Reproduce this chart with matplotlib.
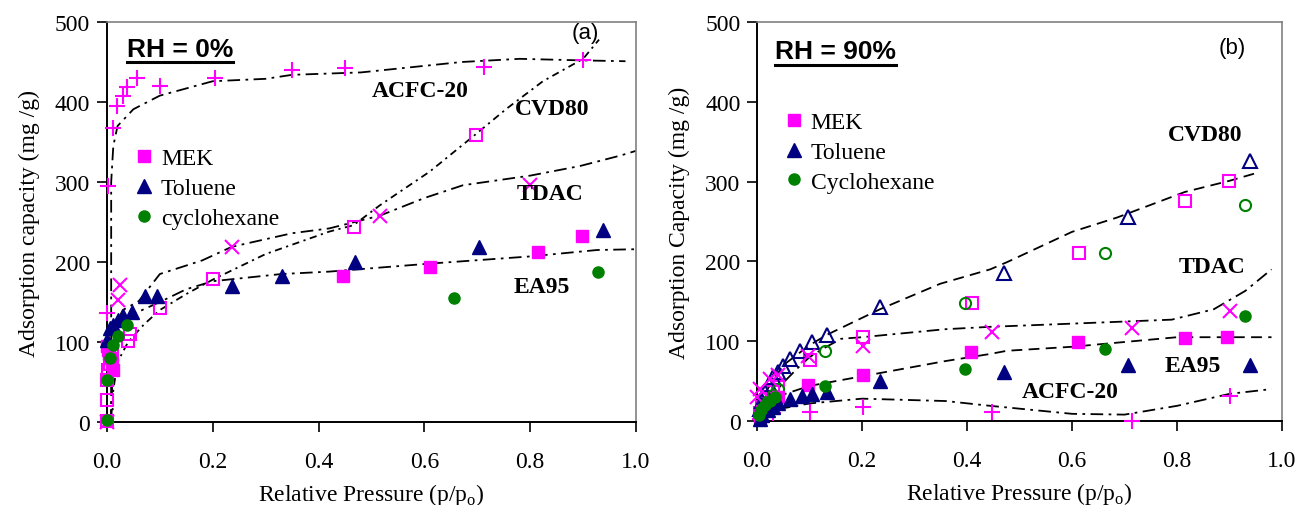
import matplotlib
matplotlib.use("Agg")
import matplotlib.pyplot as plt
from matplotlib.lines import Line2D

plt.rcParams['font.family'] = ['Liberation Serif', 'DejaVu Serif']
plt.rcParams['mathtext.fontset'] = 'custom'
plt.rcParams['mathtext.rm'] = 'Liberation Serif'

MAG = '#FF00FF'
NAVY = '#000080'
GRN = '#008000'

# ---- panel (a) RH = 0% ----
a_acfc_x = [0.0, 0.002, 0.011, 0.019, 0.03, 0.038, 0.057, 0.10, 0.204, 0.35, 0.45, 0.713, 0.90]
a_acfc_y = [136, 295, 367, 395, 408, 419, 430, 420, 430, 440, 443, 444, 453]
a_cvd_x = [0.0, 0.0, 0.0, 0.002, 0.006, 0.01, 0.04, 0.044, 0.10, 0.20, 0.466, 0.698]
a_cvd_y = [1, 27, 52, 65, 73, 84, 101, 110, 142, 179, 244, 359]
a_tdac_x = [0.0, 0.02, 0.025, 0.236, 0.516, 0.80]
a_tdac_y = [0, 152, 171, 219, 257, 296]
a_mek_x = [0.0, 0.002, 0.004, 0.006, 0.009, 0.012, 0.446, 0.61, 0.815, 0.898]
a_mek_y = [95, 90, 85, 80, 72, 65, 182, 194, 213, 232]
a_tol_x = [0.0, 0.005, 0.011, 0.02, 0.03, 0.047, 0.072, 0.095, 0.236, 0.33, 0.469, 0.703, 0.937]
a_tol_y = [102, 117, 121, 127, 133, 138, 157, 157, 170, 183, 200, 219, 240]
a_cyc_x = [0.0, 0.0, 0.006, 0.012, 0.02, 0.038, 0.656, 0.928]
a_cyc_y = [3, 52, 80, 96, 107, 121, 155, 188]

# fitted curves (a)
a_acfc_cx = [0.008, 0.008, 0.012, 0.02, 0.05, 0.1, 0.2, 0.3, 0.35, 0.48, 0.67, 0.78, 0.9, 0.98]
a_acfc_cy = [0, 300, 345, 370, 391, 408, 426, 429, 434, 437, 450, 454, 452, 451]
a_cvd_cx = [0.01, 0.012, 0.02, 0.04, 0.07, 0.1, 0.15, 0.2, 0.3, 0.42, 0.466, 0.516, 0.61, 0.692, 0.756, 0.824, 0.9, 0.93]
a_cvd_cy = [0, 40, 75, 100, 122, 140, 160, 178, 210, 238, 246, 271, 313, 357, 392, 426, 454, 478]
a_tdac_cx = [0.008, 0.01, 0.015, 0.03, 0.06, 0.1, 0.18, 0.236, 0.35, 0.42, 0.516, 0.6, 0.673, 0.8, 0.894, 0.97, 1.0]
a_tdac_cy = [0, 80, 120, 140, 151, 185, 202, 219, 236, 242, 258, 280, 296, 308, 320, 333, 339]
a_ea_cx = [0.008, 0.01, 0.015, 0.03, 0.05, 0.1, 0.15, 0.2, 0.33, 0.42, 0.61, 0.8, 0.926, 1.0]
a_ea_cy = [0, 60, 100, 122, 135, 150, 166, 176, 185, 188, 198, 207, 215, 216]

# ---- panel (b) RH = 90% ----
b_acfc_x = [0.005, 0.015, 0.03, 0.101, 0.202, 0.448, 0.714, 0.90]
b_acfc_y = [3, 6, 10, 11, 18, 11, 0, 31]
b_cvd_x = [0.005, 0.01, 0.02, 0.03, 0.04, 0.101, 0.202, 0.41, 0.613, 0.815, 0.899]
b_cvd_y = [10, 18, 28, 36, 42, 76, 105, 148, 210, 276, 301]
b_cvdtol_x = [0.006, 0.01, 0.016, 0.023, 0.03, 0.04, 0.05, 0.063, 0.082, 0.105, 0.133, 0.234, 0.47, 0.707, 0.939]
b_cvdtol_y = [15, 25, 36, 46, 55, 61, 69, 78, 88, 99, 108, 143, 185, 255, 326]
b_cvdcyc_x = [0.01, 0.02, 0.03, 0.04, 0.13, 0.396, 0.663, 0.93]
b_cvdcyc_y = [15, 25, 32, 40, 88, 148, 210, 271]
b_tdac_x = [0.0, 0.006, 0.025, 0.04, 0.097, 0.202, 0.448, 0.714, 0.90]
b_tdac_y = [30, 40, 53, 58, 82, 94, 111, 116, 138]
b_mek_x = [0.005, 0.01, 0.02, 0.03, 0.04, 0.097, 0.202, 0.408, 0.611, 0.815, 0.895]
b_mek_y = [5, 12, 18, 24, 30, 45, 58, 86, 99, 104, 105]
b_tol_x = [0.005, 0.01, 0.02, 0.03, 0.04, 0.063, 0.086, 0.105, 0.133, 0.234, 0.47, 0.707, 0.939]
b_tol_y = [3, 8, 14, 18, 22, 27, 31, 34, 36, 50, 61, 70, 70]
b_cyc_x = [0.003, 0.008, 0.015, 0.025, 0.035, 0.13, 0.396, 0.663, 0.93]
b_cyc_y = [8, 14, 20, 25, 30, 44, 65, 90, 132]

# fitted curves (b)
b_cvd_cx = [0.0, 0.02, 0.05, 0.1, 0.133, 0.234, 0.349, 0.444, 0.476, 0.6, 0.686, 0.815, 0.9, 0.958]
b_cvd_cy = [-5, 40, 70, 95, 108, 140, 172, 190, 199, 237, 255, 287, 301, 312]
b_tdac_cx = [0.0, 0.02, 0.05, 0.08, 0.1, 0.124, 0.16, 0.2, 0.358, 0.444, 0.6, 0.79, 0.87, 0.93, 0.98]
b_tdac_cy = [-5, 25, 48, 68, 80, 90, 103, 105, 115, 118, 122, 127, 140, 163, 190]
b_ea_cx = [0.0, 0.02, 0.04, 0.1, 0.2, 0.358, 0.444, 0.476, 0.6, 0.7, 0.8, 0.98]
b_ea_cy = [-5, 20, 31, 44, 56, 75, 84, 88, 93, 99, 105, 105]
b_acfc_cx = [0.0, 0.02, 0.05, 0.1, 0.2, 0.36, 0.444, 0.476, 0.6, 0.7, 0.8, 0.9, 0.98]
b_acfc_cy = [-5, 8, 16, 22, 28, 25, 19, 17, 9, 8, 19, 34, 40]

DASHDOT = (0, (7, 3, 1.5, 3))
FINEDD = (0, (4, 2.5, 1.2, 2.5))
DASHED = (0, (6, 3.5))
FS = 17

fig = plt.figure(figsize=(13.01, 5.06), dpi=100)
axa = fig.add_axes([0.0822, 0.164, 0.4067, 0.7905])
axb = fig.add_axes([0.5819, 0.166, 0.4035, 0.7886])


def style_axes(ax, ylab):
    ax.set_xlim(0, 1.0)
    ax.set_ylim(0, 500)
    ax.set_xticks([0, 0.2, 0.4, 0.6, 0.8, 1.0])
    ax.set_xticklabels(["0.0", "0.2", "0.4", "0.6", "0.8", "1.0"])
    ax.set_yticks([0, 100, 200, 300, 400, 500])
    ax.tick_params(direction='out', length=7, width=1.2, labelsize=FS)
    ax.tick_params(axis='x', pad=14)
    ax.tick_params(axis='y', pad=5)
    for s in ['top', 'right']:
        ax.spines[s].set_color('#808080')
        ax.spines[s].set_linewidth(1.2)
    for s in ['left', 'bottom']:
        ax.spines[s].set_linewidth(1.4)
    ax.set_xlabel(r"Relative Pressure (p/p$_\mathregular{o}$)", fontsize=FS, labelpad=6)
    ax.set_ylabel(ylab, fontsize=FS, labelpad=11)


def curve(ax, x, y, ls):
    ax.plot(x, y, color='black', linestyle=ls, linewidth=1.3, zorder=2)


def tag(ax, x, y, s):
    ax.text(x, y, s, transform=ax.transAxes, fontsize=FS, fontweight='bold', ha='center', va='center')


# panel (a)
style_axes(axa, "Adsorption capacity (mg /g)")
curve(axa, a_acfc_cx, a_acfc_cy, DASHDOT)
curve(axa, a_cvd_cx, a_cvd_cy, FINEDD)
curve(axa, a_tdac_cx, a_tdac_cy, DASHDOT)
curve(axa, a_ea_cx, a_ea_cy, DASHDOT)
axa.plot(a_acfc_x, a_acfc_y, '+', color=MAG, ms=11, mew=1.5, clip_on=False, zorder=3)
axa.plot(a_cvd_x, a_cvd_y, 's', mfc='none', mec=MAG, ms=8, mew=1.5, clip_on=False, zorder=3)
axa.plot(a_tdac_x, a_tdac_y, 'x', color=MAG, ms=10, mew=1.5, clip_on=False, zorder=3)
axa.plot(a_mek_x, a_mek_y, 's', color=MAG, ms=8, clip_on=False, zorder=3)
axa.plot(a_tol_x, a_tol_y, '^', color=NAVY, ms=10, clip_on=False, zorder=3)
axa.plot(a_cyc_x, a_cyc_y, 'o', color=GRN, ms=8, clip_on=False, zorder=3)

tag(axa, 0.592, 0.828, "ACFC-20")
tag(axa, 0.841, 0.783, "CVD80")
tag(axa, 0.837, 0.571, "TDAC")
tag(axa, 0.822, 0.339, "EA95")
axa.text(0.904, 0.973, "(a)", transform=axa.transAxes, fontsize=16, family='Liberation Sans', ha='center', va='center')
rh_a = axa.text(0.038, 0.933, "RH = 0%", transform=axa.transAxes, fontsize=19, fontweight='bold',
                family='Liberation Sans', ha='left', va='center')

hand_a = [Line2D([], [], marker='s', color=MAG, ls='none', ms=8),
          Line2D([], [], marker='^', color=NAVY, ls='none', ms=10),
          Line2D([], [], marker='o', color=GRN, ls='none', ms=8)]
axa.legend(hand_a, ["MEK", "Toluene", "cyclohexane"], loc='upper left', bbox_to_anchor=(0.035, 0.715),
           frameon=False, fontsize=FS, handlelength=0.6, handletextpad=0.4, labelspacing=0.35, borderpad=0)

# panel (b)
style_axes(axb, "Adsorption Capacity (mg /g)")
curve(axb, b_cvd_cx, b_cvd_cy, DASHED)
curve(axb, b_tdac_cx, b_tdac_cy, DASHDOT)
curve(axb, b_ea_cx, b_ea_cy, DASHED)
curve(axb, b_acfc_cx, b_acfc_cy, DASHDOT)
axb.plot(b_acfc_x, b_acfc_y, '+', color=MAG, ms=11, mew=1.5, clip_on=False, zorder=3)
axb.plot(b_cvd_x, b_cvd_y, 's', mfc='none', mec=MAG, ms=8, mew=1.5, clip_on=False, zorder=3)
axb.plot(b_cvdtol_x, b_cvdtol_y, '^', mfc='none', mec=NAVY, ms=10, mew=1.5, clip_on=False, zorder=3)
axb.plot(b_cvdcyc_x, b_cvdcyc_y, 'o', mfc='none', mec=GRN, ms=8, mew=1.5, clip_on=False, zorder=3)
axb.plot(b_tdac_x, b_tdac_y, 'x', color=MAG, ms=10, mew=1.5, clip_on=False, zorder=3)
axb.plot(b_mek_x, b_mek_y, 's', color=MAG, ms=8, clip_on=False, zorder=3)
axb.plot(b_tol_x, b_tol_y, '^', color=NAVY, ms=10, clip_on=False, zorder=3)
axb.plot(b_cyc_x, b_cyc_y, 'o', color=GRN, ms=8, clip_on=False, zorder=3)

tag(axb, 0.853, 0.719, "CVD80")
tag(axb, 0.867, 0.386, "TDAC")
tag(axb, 0.830, 0.138, "EA95")
tag(axb, 0.596, 0.073, "ACFC-20")
axb.text(0.905, 0.937, "(b)", transform=axb.transAxes, fontsize=16, family='Liberation Sans', ha='center', va='center')
rh_b = axb.text(0.034, 0.927, "RH = 90%", transform=axb.transAxes, fontsize=19, fontweight='bold',
                family='Liberation Sans', ha='left', va='center')

hand_b = [Line2D([], [], marker='s', color=MAG, ls='none', ms=8),
          Line2D([], [], marker='^', color=NAVY, ls='none', ms=10),
          Line2D([], [], marker='o', color=GRN, ls='none', ms=8)]
axb.legend(hand_b, ["MEK", "Toluene", "Cyclohexane"], loc='upper left', bbox_to_anchor=(0.035, 0.805),
           frameon=False, fontsize=FS, handlelength=0.6, handletextpad=0.4, labelspacing=0.35, borderpad=0)

# underline the RH labels
fig.canvas.draw()
rend = fig.canvas.get_renderer()
for ax, t in [(axa, rh_a), (axb, rh_b)]:
    bb = t.get_window_extent(rend).transformed(ax.transAxes.inverted())
    ax.plot([bb.x0, bb.x1], [bb.y0 - 0.004, bb.y0 - 0.004], color='black', lw=2.2,
            transform=ax.transAxes, clip_on=False)

fig.savefig("out.png", dpi=100)
